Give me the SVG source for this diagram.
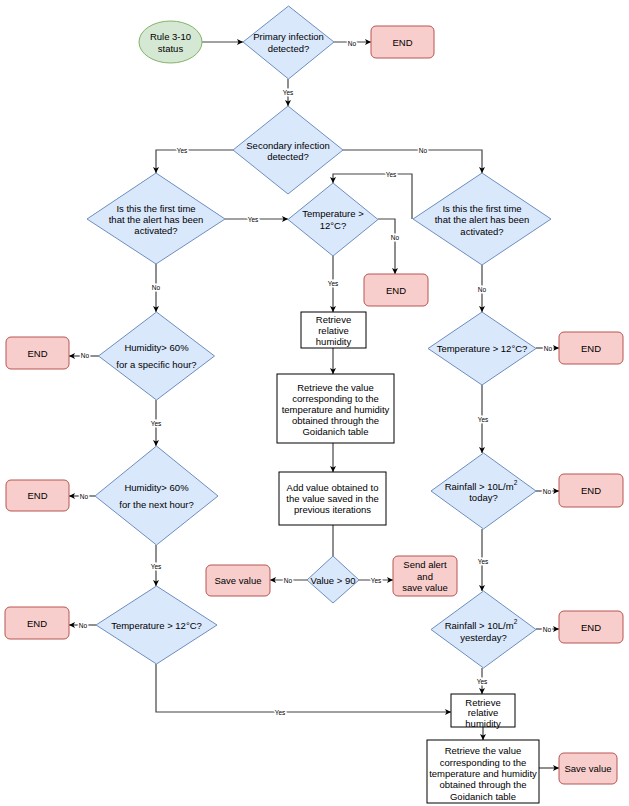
<svg xmlns="http://www.w3.org/2000/svg" width="629" height="806" viewBox="0 0 629 806">
<style>
text{font-family:"Liberation Sans",Arial,sans-serif;font-size:9.5px;fill:#000;text-anchor:middle;dominant-baseline:central}
.dia{fill:#dae8fc;stroke:#6c8ebf;stroke-width:1}
.end{fill:#f8cecc;stroke:#b85450;stroke-width:1}
.box{fill:#fff;stroke:#000;stroke-width:1}
.start{fill:#d5e8d4;stroke:#82b366;stroke-width:1}
.c{fill:none;stroke:#444;stroke-width:1.2}
.ca{fill:none;stroke:#444;stroke-width:1.2;marker-end:url(#arr)}
.lbl{font-size:6.5px;stroke:#fff;stroke-width:3;paint-order:stroke}
</style>
<defs>
<marker id="arr" markerUnits="userSpaceOnUse" markerWidth="8" markerHeight="7" refX="6" refY="3" orient="auto">
<path d="M0,0 L6,3 L0,6 L1.5,3 z" fill="#000"/>
</marker>
</defs>
<rect width="629" height="806" fill="#fff"/>

<g id="connectors">
<path class="ca" d="M202,42 H243"/>
<path class="ca" d="M334,42 H371"/>
<path class="ca" d="M288,79 V106"/>
<path class="ca" d="M233,150 H156 V173"/>
<path class="ca" d="M343,150 H482 V173"/>
<path class="ca" d="M225,219 H288"/>
<path class="ca" d="M412,219 V174 H333 V183"/>
<path class="ca" d="M378,219 H395 V274"/>
<path class="ca" d="M333,256 V312"/>
<path class="ca" d="M333,348 V374"/>
<path class="ca" d="M333,443 V472"/>
<path class="c" d="M333,525 V556"/>
<path class="ca" d="M307,580 H270"/>
<path class="ca" d="M359,580 H393"/>
<path class="ca" d="M156,264 V312"/>
<path class="ca" d="M99,356 H69"/>
<path class="ca" d="M156,400 V446"/>
<path class="ca" d="M95,496 H69"/>
<path class="ca" d="M156,545 V586"/>
<path class="ca" d="M96,625 H69"/>
<path class="ca" d="M156,664 V712 H451"/>
<path class="ca" d="M482,265 V312"/>
<path class="ca" d="M536,348 H559"/>
<path class="ca" d="M482,385 V453"/>
<path class="ca" d="M536,491 H559"/>
<path class="ca" d="M482,529 V591"/>
<path class="ca" d="M536,629 H559"/>
<path class="ca" d="M482,668 V694"/>
<path class="ca" d="M483,727 V740"/>
<path class="ca" d="M539,768 H559"/>
<text class="lbl" x="352" y="43">No</text>
<text class="lbl" x="288" y="92">Yes</text>
<text class="lbl" x="182" y="150">Yes</text>
<text class="lbl" x="423" y="150">No</text>
<text class="lbl" x="253" y="219">Yes</text>
<text class="lbl" x="391" y="174">Yes</text>
<text class="lbl" x="395" y="237">No</text>
<text class="lbl" x="333" y="283">Yes</text>
<text class="lbl" x="288" y="580">No</text>
<text class="lbl" x="376" y="580">Yes</text>
<text class="lbl" x="156" y="287">No</text>
<text class="lbl" x="85" y="355">No</text>
<text class="lbl" x="156" y="423">Yes</text>
<text class="lbl" x="84" y="496">No</text>
<text class="lbl" x="156" y="566">Yes</text>
<text class="lbl" x="83" y="625">No</text>
<text class="lbl" x="280" y="712">Yes</text>
<text class="lbl" x="482" y="289">No</text>
<text class="lbl" x="548" y="348">No</text>
<text class="lbl" x="483" y="419">Yes</text>
<text class="lbl" x="547" y="491">No</text>
<text class="lbl" x="483" y="561">Yes</text>
<text class="lbl" x="547" y="629">No</text>
<text class="lbl" x="482" y="681">Yes</text>
</g>

<g id="start">
<ellipse class="start" cx="170.5" cy="42" rx="31.5" ry="21"/>
<text x="170.5" y="36">Rule 3-10</text>
<text x="170.5" y="48">status</text>
</g>

<g id="primary">
<polygon class="dia" points="288.5,6 334,42 288.5,79 243,42"/>
<text x="288.5" y="36">Primary infection</text>
<text x="288.5" y="48">detected?</text>
</g>

<g id="end1">
<rect class="end" x="371" y="26" width="63" height="32" rx="5"/>
<text x="402.5" y="42">END</text>
</g>

<g id="secondary">
<polygon class="dia" points="288,106 343,150 288,194 233,150"/>
<text x="288" y="145">Secondary infection</text>
<text x="288" y="156">detected?</text>
</g>

<g id="firsttime-left">
<polygon class="dia" points="156,173 225,219 156,264 87,219"/>
<text x="156" y="208">Is this the first time</text>
<text x="156" y="219">that the alert has been</text>
<text x="156" y="230">activated?</text>
</g>

<g id="temp-mid">
<polygon class="dia" points="333,183 378,219.5 333,256 288,219.5"/>
<text x="333" y="213">Temperature &gt;</text>
<text x="333" y="225">12°C?</text>
</g>

<g id="end-mid">
<rect class="end" x="364" y="274" width="64" height="32" rx="5"/>
<text x="396" y="290">END</text>
</g>

<g id="firsttime-right">
<polygon class="dia" points="482,173 551,219 482,265 413,219"/>
<text x="482" y="208">Is this the first time</text>
<text x="482" y="219.5">that the alert has been</text>
<text x="482" y="231">activated?</text>
</g>

<g id="retrieve-mid">
<rect class="box" x="301" y="312" width="65" height="36"/>
<text x="333.5" y="319">Retrieve</text>
<text x="333.5" y="330">relative</text>
<text x="333.5" y="341">humidity</text>
</g>

<g id="goidanich-mid">
<rect class="box" x="277" y="374" width="117" height="69"/>
<text x="335.5" y="387">Retrieve the value</text>
<text x="335.5" y="398">corresponding to the</text>
<text x="335.5" y="409">temperature and humidity</text>
<text x="335.5" y="420">obtained through the</text>
<text x="335.5" y="431">Goidanich table</text>
</g>

<g id="add-value">
<rect class="box" x="279" y="472" width="107" height="53"/>
<text x="332.5" y="487">Add value obtained to</text>
<text x="332.5" y="498">the value saved in the</text>
<text x="332.5" y="509">previous iterations</text>
</g>

<g id="value90">
<polygon class="dia" points="333,556 359,580 333,603 307,580"/>
<text x="333" y="580">Value &gt; 90</text>
</g>

<g id="save-mid">
<rect class="end" x="206" y="565" width="64" height="31" rx="5"/>
<text x="238" y="580.5">Save value</text>
</g>

<g id="send-alert">
<rect class="end" x="393" y="556" width="64" height="40" rx="5"/>
<text x="425" y="564">Send alert</text>
<text x="425" y="576">and</text>
<text x="425" y="587">save value</text>
</g>

<g id="humidity1">
<polygon class="dia" points="156.5,312 214.5,356 156.5,400 98.5,356"/>
<text x="156.5" y="347">Humidity&gt; 60%</text>
<text x="156.5" y="364">for a specific hour?</text>
</g>

<g id="end-h1">
<rect class="end" x="6" y="337" width="63" height="32" rx="5"/>
<text x="37.5" y="353">END</text>
</g>

<g id="humidity2">
<polygon class="dia" points="156.5,446 218,496 156.5,545 95,496"/>
<text x="156.5" y="487">Humidity&gt; 60%</text>
<text x="156.5" y="504">for the next hour?</text>
</g>

<g id="end-h2">
<rect class="end" x="6" y="480" width="63" height="31" rx="5"/>
<text x="37.5" y="495.5">END</text>
</g>

<g id="temp-left">
<polygon class="dia" points="156.5,586 217,625 156.5,664 96,625"/>
<text x="156.5" y="625">Temperature &gt; 12°C?</text>
</g>

<g id="end-tl">
<rect class="end" x="5" y="607" width="64" height="32" rx="5"/>
<text x="37" y="623">END</text>
</g>

<g id="temp-right">
<polygon class="dia" points="482,312 536,348.5 482,385 428,348.5"/>
<text x="482" y="348">Temperature &gt; 12°C?</text>
</g>

<g id="end-tr">
<rect class="end" x="559" y="332" width="64" height="32" rx="5"/>
<text x="591" y="348">END</text>
</g>

<g id="rain-today">
<polygon class="dia" points="483.5,453 536,491 483.5,529 431,491"/>
<text x="481" y="486">Rainfall &gt; 10L/m<tspan font-size="6.5" dy="-4">2</tspan></text>
<text x="483.5" y="497">today?</text>
</g>

<g id="end-rt">
<rect class="end" x="559" y="474" width="64" height="33" rx="5"/>
<text x="591" y="490.5">END</text>
</g>

<g id="rain-yesterday">
<polygon class="dia" points="483.5,591 536,629.5 483.5,668 431,629.5"/>
<text x="481" y="625">Rainfall &gt; 10L/m<tspan font-size="6.5" dy="-4">2</tspan></text>
<text x="483.5" y="637">yesterday?</text>
</g>

<g id="end-ry">
<rect class="end" x="559" y="611" width="64" height="32" rx="5"/>
<text x="591" y="627">END</text>
</g>

<g id="retrieve-right">
<rect class="box" x="451" y="694" width="64" height="33"/>
<text x="483" y="702">Retrieve</text>
<text x="483" y="712.5">relative</text>
<text x="483" y="723">humidity</text>
</g>

<g id="goidanich-right">
<rect class="box" x="427" y="740" width="112" height="63"/>
<text x="483" y="750">Retrieve the value</text>
<text x="483" y="762">corresponding to the</text>
<text x="483" y="773">temperature and humidity</text>
<text x="483" y="784">obtained through the</text>
<text x="483" y="796">Goidanich table</text>
</g>

<g id="save-right">
<rect class="end" x="559" y="753" width="58" height="31" rx="5"/>
<text x="588" y="768.5">Save value</text>
</g>
</svg>
